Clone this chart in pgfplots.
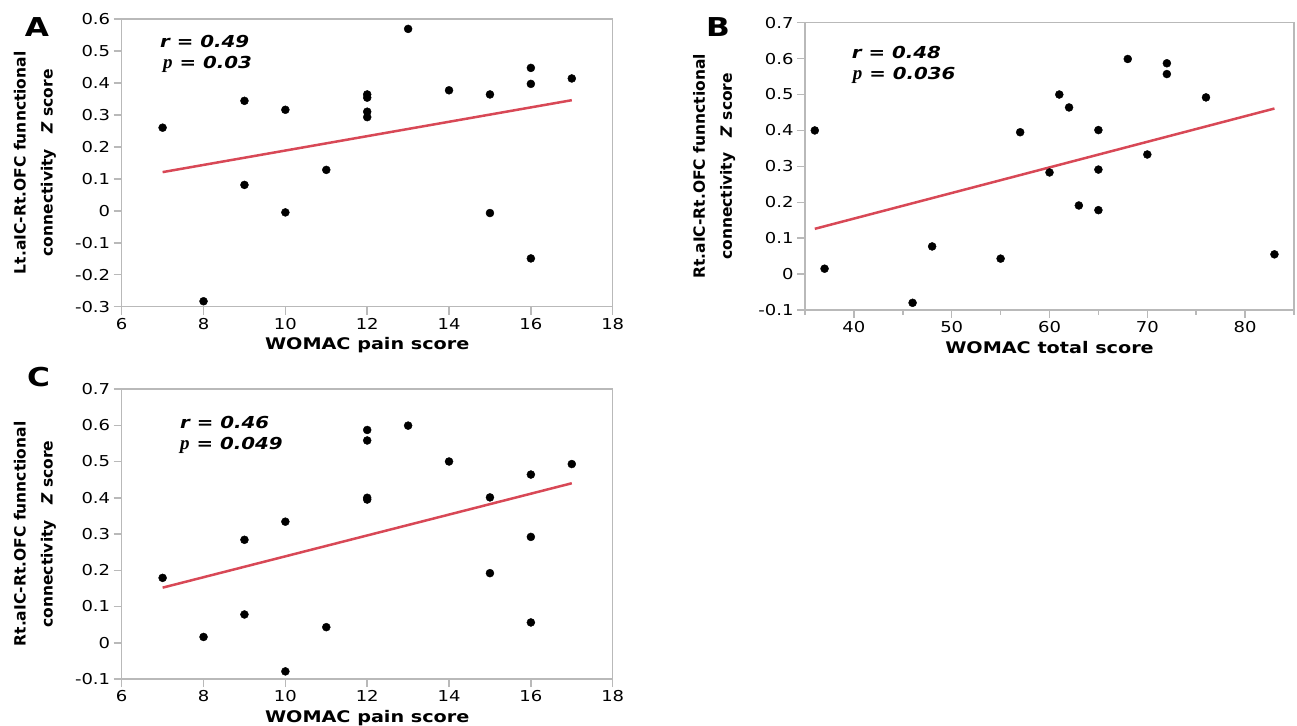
\documentclass[border=0pt]{standalone}
\usepackage{fontspec}
\setmainfont[FakeStretch=1.2]{DejaVu Sans}
\newfontfamily\ylfont{DejaVu Sans}
\newfontfamily\pfont{Liberation Serif}
\usepackage{pgfplots}
\pgfplotsset{compat=1.18}

\definecolor{axgray}{RGB}{185,185,185}
\definecolor{fitred}{RGB}{216,72,86}

\pgfplotsset{
  panel/.style={
    scale only axis,
    anchor=south west,
    axis line style={axgray, line width=1.5pt},
    tick style={axgray, line width=1.5pt},
    tick align=outside,
    tick pos=left,
    major tick length=8pt,
    minor tick length=5pt,
    tick label style={font=\fontsize{15}{17}\selectfont},
    /pgf/number format/.cd, fixed, precision=1, assume math mode=true, /pgfplots/.cd,
    xlabel style={font=\fontsize{16}{20}\selectfont\bfseries,
      at={(axis description cs:0.5,-0.15)}, anchor=base},
    ylabel style={font=\ylfont\fontsize{15.5}{27}\selectfont\bfseries,
      align=center, anchor=center},
  },
  dots/.style={only marks, mark=*, mark size=4pt,
    mark options={draw=black, fill=black}},
  fit/.style={fitred, line width=2.5pt, no marks},
}

\newcommand{\annot}[1]{\fontsize{16.5}{20}\selectfont\bfseries\itshape #1}
\newcommand{\pp}{{\pfont\bfseries\itshape\fontsize{19}{20}\selectfont p}}

\begin{document}
\begin{tikzpicture}
\useasboundingbox (0pt,0pt) rectangle (1297pt,725pt);

% A: Lt.aIC-Rt.OFC vs WOMAC pain
\begin{axis}[panel,
  at={(121.7pt,418.3pt)}, width=491pt, height=287.7pt,
  xmin=6, xmax=18, ymin=-0.3, ymax=0.6,
  xtick={6,8,10,12,14,16,18},
  ytick={-0.3,-0.2,-0.1,0,0.1,0.2,0.3,0.4,0.5,0.6},
  xlabel={WOMAC pain score},
  ylabel={Lt.aIC-Rt.OFC funnctional\\connectivity\quad\textit{Z} score},
  ylabel style={at={(axis description cs:-0.177,0.5)}},
]
\addplot[dots] coordinates {
  (7,0.260) (8,-0.283) (9,0.344) (9,0.081) (10,0.316) (10,-0.005)
  (11,0.128) (12,0.364) (12,0.354) (12,0.310) (12,0.293) (13,0.569)
  (14,0.377) (15,0.364) (15,-0.007) (16,0.447) (16,0.397) (16,-0.149)
  (17,0.414)
};
\addplot[fit] coordinates {(7,0.121) (17,0.346)};
\end{axis}

% B: Rt.aIC-Rt.OFC vs WOMAC total
\begin{axis}[panel,
  at={(805pt,415pt)}, width=489pt, height=287.3pt,
  xmin=35, xmax=85, ymin=-0.1, ymax=0.7,
  xtick={40,50,60,70,80},
  minor xtick={35,45,55,65,75,85},
  ytick={-0.1,0,0.1,0.2,0.3,0.4,0.5,0.6,0.7},
  xlabel={WOMAC total score},
  ylabel={Rt.aIC-Rt.OFC funnctional\\connectivity\quad\textit{Z} score},
  ylabel style={at={(axis description cs:-0.186,0.5)}},
]
\addplot[dots] coordinates {
  (36,0.400) (37,0.015) (46,-0.080) (48,0.077) (55,0.043) (57,0.395)
  (60,0.283) (61,0.500) (62,0.464) (63,0.191) (65,0.401) (65,0.291)
  (65,0.178) (68,0.599) (70,0.333) (72,0.587) (72,0.557) (76,0.492)
  (83,0.055)
};
\addplot[fit] coordinates {(36,0.126) (83,0.461)};
\end{axis}

% C: Rt.aIC-Rt.OFC vs WOMAC pain
\begin{axis}[panel,
  at={(121.7pt,46pt)}, width=491pt, height=290pt,
  xmin=6, xmax=18, ymin=-0.1, ymax=0.7,
  xtick={6,8,10,12,14,16,18},
  ytick={-0.1,0,0.1,0.2,0.3,0.4,0.5,0.6,0.7},
  xlabel={WOMAC pain score},
  ylabel={Rt.aIC-Rt.OFC funnctional\\connectivity\quad\textit{Z} score},
  ylabel style={at={(axis description cs:-0.177,0.5)}},
]
\addplot[dots] coordinates {
  (7,0.179) (8,0.016) (9,0.284) (9,0.078) (10,0.334) (10,-0.079)
  (11,0.043) (12,0.587) (12,0.558) (12,0.400) (12,0.395) (13,0.599)
  (14,0.500) (15,0.401) (15,0.192) (16,0.464) (16,0.292) (16,0.056)
  (17,0.493)
};
\addplot[fit] coordinates {(7,0.152) (17,0.440)};
\end{axis}

% panel letters and statistics
\begin{scope}[font=\fontsize{26}{28}\selectfont\bfseries]
  \node at (37pt,697.5pt) {A};
  \node at (718pt,698pt) {B};
  \node at (38.5pt,348pt) {C};
\end{scope}
\node[anchor=base west, inner sep=0] at (160pt,677.7pt) {\annot{r = 0.49}};
\node[anchor=base west, inner sep=0] at (163pt,656.7pt) {\pp\annot{ = 0.03}};
\node[anchor=base west, inner sep=0] at (851.7pt,666.7pt) {\annot{r = 0.48}};
\node[anchor=base west, inner sep=0] at (852.7pt,645pt) {\pp\annot{ = 0.036}};
\node[anchor=base west, inner sep=0] at (180pt,296pt) {\annot{r = 0.46}};
\node[anchor=base west, inner sep=0] at (180pt,275pt) {\pp\annot{ = 0.049}};
\end{tikzpicture}
\end{document}
